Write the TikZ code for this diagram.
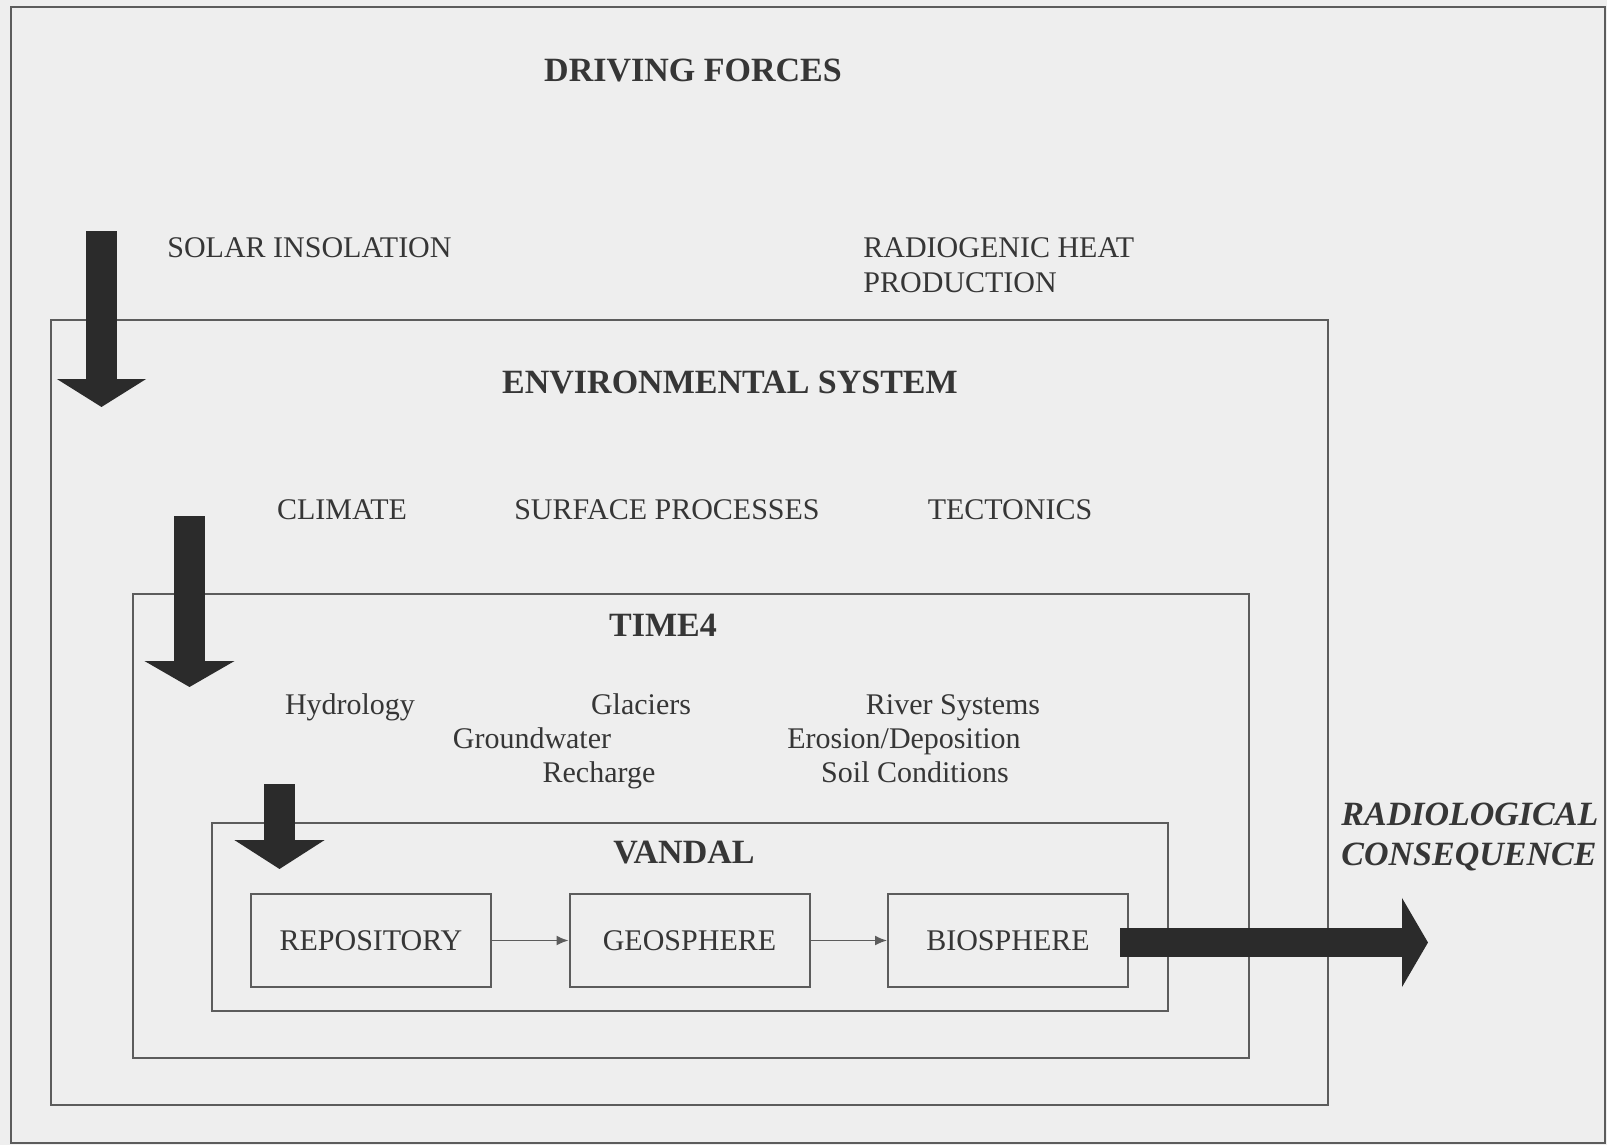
\documentclass[tikz,border=0pt]{standalone}
\usepackage{fontspec}
\setmainfont{Liberation Serif}
\usepackage{tikz}
\usetikzlibrary{arrows.meta,positioning}
\definecolor{paper}{HTML}{EEEEEE}
\definecolor{inkgray}{HTML}{363636}
\definecolor{framegray}{HTML}{5C5C5C}
\definecolor{arrowdark}{HTML}{2B2B2B}
\tikzset{
  txt/.style={font=\fontsize{15}{17.5}\selectfont,text=inkgray,inner sep=0pt},
  subtxt/.style={txt,anchor=base},
  heading/.style={font=\fontsize{17}{20}\selectfont\bfseries,text=inkgray,inner sep=0pt},
  conseq/.style={font=\fontsize{17}{20}\selectfont\bfseries\itshape,text=inkgray,
    inner sep=0pt,align=left},
  frame/.style={draw=framegray,line width=1pt},
  compbox/.style={draw=framegray,line width=1pt,minimum width=120pt,minimum height=46.5pt,
    font=\fontsize{15}{17.5}\selectfont,text=inkgray,inner sep=0pt},
  link/.style={-{Latex[length=6pt,width=5pt]},draw=framegray,line width=0.8pt},
  fatarrow/.style={draw=arrowdark,line width=15.5pt,-{Triangle[length=14pt,width=44pt]}}
}

\begin{document}
\begin{tikzpicture}[x=0.5pt,y=-0.5pt]
  \useasboundingbox (0,0) rectangle (1607,1145);
  \fill[paper] (0,0) rectangle (1607,1145);
  % Frames
  \draw[frame] (11,7) rectangle (1605,1143);
  \draw[frame] (51,320) rectangle (1328,1105);
  \draw[frame] (133,594) rectangle (1249,1058);
  \draw[frame] (212,823) rectangle (1168,1011);
  % Driving forces
  \node[heading] (drive) at (693,71) {DRIVING FORCES};
  \node[txt,anchor=west] (solar) at (167,248) {SOLAR INSOLATION};
  \node[txt,anchor=west,align=left] (radio) at (863,265.5) {RADIOGENIC HEAT\\PRODUCTION};
  % Environmental system
  \node[heading] (env) at (730,382) {ENVIRONMENTAL SYSTEM};
  \node[txt] (climate) at (342,510) {CLIMATE};
  \node[txt] (surface) at (667,510) {SURFACE PROCESSES};
  \node[txt] (tecton) at (1010,510) {TECTONICS};
  % TIME4
  \node[heading] (time) at (663,625) {TIME4};
  \node[subtxt] (hydro) at (350,714) {Hydrology};
  \node[subtxt] (glac) at (641,714) {Glaciers};
  \node[subtxt] (river) at (953,714) {River Systems};
  \node[subtxt] (ground) at (532,748) {Groundwater};
  \node[subtxt] (erosion) at (904,748) {Erosion/Deposition};
  \node[subtxt] (recharge) at (599,782) {Recharge};
  \node[subtxt] (soil) at (915,782) {Soil Conditions};
  % VANDAL
  \node[heading] (vandal) at (684,853) {VANDAL};
  \node[compbox] (repo) at (371,940.5) {REPOSITORY};
  \node[compbox] (geo) at (689.5,940.5) {GEOSPHERE};
  \node[compbox] (bio) at (1008,940.5) {BIOSPHERE};
  \draw[link] (repo) -- (geo);
  \draw[link] (geo) -- (bio);
  % Big arrows
  \coordinate (solartop) at (101.5,231);
  \coordinate (solartip) at (101.5,407);
  \coordinate (envtop) at (189.5,516);
  \coordinate (envtip) at (189.5,687);
  \coordinate (timetop) at (279.5,784);
  \coordinate (timetip) at (279.5,869);
  \coordinate (bioout) at (1120,942.5);
  \coordinate (radtip) at (1428,942.5);
  \draw[fatarrow] (solartop) -- (solartip);
  \draw[fatarrow,-{Triangle[length=13pt,width=44.5pt]}] (envtop) -- (envtip);
  \draw[fatarrow,-{Triangle[length=14.5pt,width=44.5pt]}] (timetop) -- (timetip);
  \draw[fatarrow,line width=14.5pt,-{Triangle[length=13pt,width=44pt]}] (bioout) -- (radtip);
  \node[conseq,anchor=west] (radcons) at (1341,837) {RADIOLOGICAL\\CONSEQUENCE};
\end{tikzpicture}
\end{document}
